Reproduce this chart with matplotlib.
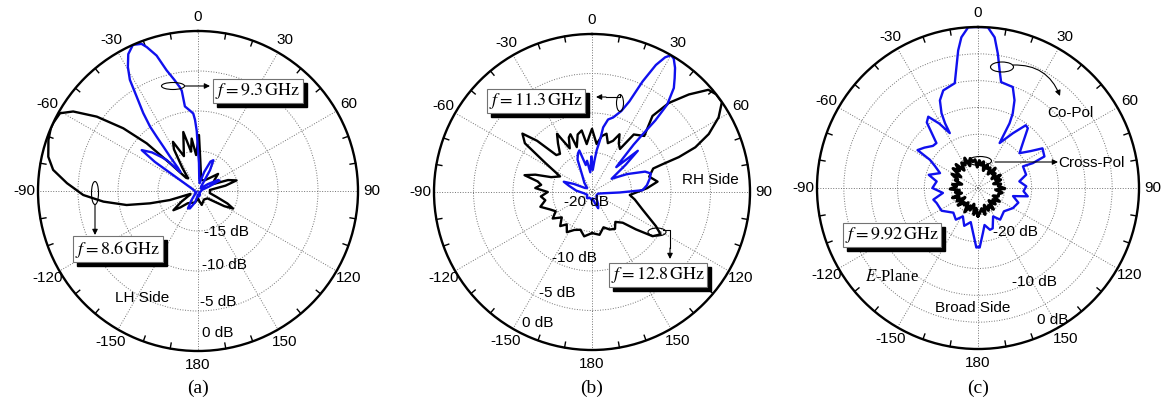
import numpy as np
import matplotlib
matplotlib.use("Agg")
from matplotlib import pyplot as plt
from matplotlib.patches import Ellipse, Rectangle

plt.rcParams['font.family'] = ['Liberation Sans', 'DejaVu Sans']
plt.rcParams['mathtext.fontset'] = 'stix'

# (a) LH side beams, 9.3 GHz (blue) and 8.6 GHz (black)
a93_theta = [-180, -165, -155, -150, -145, -135, -120, -100, -80, -66, -60, -56, -54, -50, -47,
             -45.3, -43, -41, -39.2, -38, -37.3, -36.7, -35.1, -33, -31.5, -29.5, -27, -24, -21,
             -19.6, -17, -14.6, -12, -10, -9.2, -8.8, -5.7, -3.5, -2.4, -1.2, 0, 2, 6, 12, 18, 23, 26.5,
             30, 35, 45, 55, 61, 64, 68, 75, 90, 110, 130, 150, 170, 180]
a93_db = [-19.5, -18.5, -17.6, -17.5, -18.5, -19.5, -19.8, -19.6, -19.5, -19, -18, -13.5, -11.3, -12.5, -13.8,
          -14.5, -16.8, -16.2, -14.5, -13, -11.5, -10, -8.1, -5.9, -3.7, -2.2, -0.8, 0, -0.3,
          -0.9, -2.3, -4.4, -5.8, -6.8, -7.3, -9.3, -9.9, -10.3, -11.1, -12.5, -14.9, -16.5, -18.5, -19, -17.5, -16, -15.7,
          -17, -19.3, -19.5, -18.5, -17.2, -17, -18.5, -19.5, -19.6, -19.7, -19.8, -19.5, -19.3, -19.5]

a86_theta = [-180, -165, -150, -140, -133, -128, -123, -116, -111, -109.5, -107.8, -104.4, -101.1, -96.4,
             -92, -86.6, -81.7, -77.1, -71.2, -67, -64.9, -60.6, -57.5, -53.7, -50, -47.1, -45.3, -42,
             -38, -34, -30, -27, -22, -14, -10, -6.9, -3, 1, 4, 8, 15, 30, 42, 49.6, 56, 65, 70, 74.6,
             79, 85, 100, 108, 113, 116.6, 120, 128, 145, 165, 180]
a86_db = [-19, -18.5, -18.3, -18, -17, -16.1, -17.5, -18.8, -19, -18.5, -16.3, -13.8, -10.9, -8.1,
          -5.65, -3.6, -1.7, -0.8, -0.25, 0, 0, -0.2, -1.5, -4.3, -7.8, -11.25, -15.1, -17.8,
          -18, -16.5, -14, -13.1, -15.3, -12.4, -15, -13.4, -15.5, -13, -16, -17.5, -18.5, -18.5, -17.8, -16.7, -17.5, -18, -16, -15,
          -16.5, -18.5, -18.5, -17.5, -16, -15.1, -16.2, -18.5, -18.7, -18.2, -19]

# (b) RH side beams, 11.3 GHz (blue) and 12.8 GHz (black)
b113_theta = [-180, -160, -140, -120, -100, -85, -75, -70, -66, -60, -50, -40, -30, -24, -20, -17, -13,
              -9, -5, -1, 2, 4.5, 6.4, 8.7, 9.8, 12.5, 15.8, 19.9, 22.4, 24.6, 26.7, 28.5, 30, 31.5,
              33.8, 36, 38.2, 40.7, 41.5, 41.3, 41.3, 42.5, 44.3, 46, 48, 51, 56, 63, 69, 72.5, 77, 83,
              88, 91, 96, 105, 125, 145, 153, 159, 165, 175, 180]
b113_db = [-19, -19.2, -19, -19.3, -19, -18, -17, -16.2, -17.5, -19, -19.2, -18.5, -17.5, -15.5, -14.8, -14.5, -16.5,
           -16, -17.5, -15.5, -17.2, -16, -14.7, -13.4, -11.7, -10.6, -10.2, -9.1, -7.6, -4.6, -2, -0.6, 0, -0.2,
           -1.1, -2.2, -3.25, -5.4, -7.9, -10.25, -12, -14.1, -15.6, -14.5, -12.2, -14.5, -17, -15, -12.8, -12.2, -12.5, -13,
           -13.6, -16.5, -18.5, -19.2, -19.3, -19, -18.3, -17.8, -18.5, -19.2, -19]

b128_theta = [-180, -170, -163, -155, -148, -142, -137, -130, -124, -118, -113, -106, -100, -95, -90, -86,
              -82, -79, -76, -73, -70, -64, -58, -54, -50, -47, -44, -40, -35, -31, -27, -23, -20.5, -18.7,
              -14, -9.5, -6.3, -3, 0, 5.5, 10, 14, 18, 22.3, 25.5, 29, 33, 36, 43, 38.5, 40.8, 44.8, 48.7,
              51.8, 55.3, 59.5, 63.6, 66.6, 68.1, 68.5, 69, 75, 81, 86, 94.5, 100, 109.3, 118.2, 121.7,
              126.1, 130.4, 135, 142, 148, 154.7, 162, 170, 180]
b128_db = [-14.8, -14.3, -15, -14.7, -14, -14.8, -14.1, -15, -14, -14.8, -14.3, -13.2, -14, -13.5, -14.4, -12.8,
           -13.5, -13, -11.2, -12.5, -14.5, -15.5, -13, -9.5, -8.5, -10.5, -13.5, -13.7, -12.5, -11.4, -13.8, -12.5, -12.2, -14,
           -12.5, -12.1, -13.9, -13, -12, -13.9, -12.8, -12.4, -13.5, -13, -11.9, -13, -13.5, -11, -10.3, -7.7, -5.1, -2.6, -0.4,
           0, 0, -1.4, -3.5, -5.75, -8.15, -10.4, -11.7, -12.5, -11.6, -13, -15.2, -14.5, -13.2, -10.8, -9.8,
           -10.5, -12.7, -14.5, -15.2, -14.5, -14.75, -15.3, -14.5, -14.8]

# (c) broadside, 9.92 GHz, E-plane co-pol (blue) and cross-pol (black)
c_co_theta = [-180, -178.4, -173.7, -168, -160, -152, -145, -135, -122, -110, -104.6, -98, -90, -81, -75,
              -68.6, -63, -59.6, -57.9, -53, -47, -42.8, -38, -34.9, -31, -27.2, -27, -26, -23.5, -19.6,
              -12.5, -10.1, -8.2, -6.3, -3.5, 0, 3.5, 6.3, 8.4, 10.4, 12.3, 19, 22.6, 25, 26, 25.8, 25.7,
              32.5, 37.3, 39.8, 45, 50, 55, 58.4, 64.6, 65.6, 64.3, 74.6, 80.9, 88, 94, 99.5, 103, 110,
              120, 132, 145, 152, 160, 164, 170, 173.7, 178.4, 180]
c_co_db = [-19, -18.9, -21.6, -23.5, -22.5, -24, -22.8, -23.5, -22, -21.8, -21.4, -23.4, -21.5, -22.2, -20.5,
           -22.4, -21, -19.6, -16.7, -17.5, -18.5, -18.6, -14.5, -13.8, -16, -18.5, -16.5, -14.5, -12.2, -10.7,
           -10, -7.1, -4.1, -1.75, 0, 0, 0, -1.75, -4.7, -7.7, -9.8, -10.1, -12.3, -14.7, -16.6, -19.4, -20.7,
           -17.9, -15.3, -15.5, -18.2, -19.9, -18, -15.9, -16.3, -18.8, -20.7, -20.7, -22.2, -21, -21.5, -20.6, -23.3, -22,
           -22.5, -23.5, -22.8, -24, -22, -21.9, -23, -21.6, -18.9, -19]

c_x_theta = [-180, -175, -171, -166, -160, -157, -151, -146, -141, -137, -131, -126, -122, -116, -111,
             -107, -101, -97, -92, -86, -82, -77, -71, -67, -62, -57, -52, -47, -43, -38, -33, -29, -24,
             -20, -15, -11, -6, -2, 3, 8, 12, 17, 22, 26, 31, 36, 41, 45, 50, 56, 60, 65, 70, 75, 80, 85,
             91, 96, 101, 106, 112, 117, 122, 128, 133, 139, 144, 149, 155, 160, 165, 170, 176, 180]
c_x_db = [-24.8, -26.2, -25.0, -26.9, -25.6, -26.4, -24.9, -26.7, -25.9, -26.3, -25.1, -27.0, -25.4, -26.1, -24.9,
          -26.8, -25.7, -26.5, -24.8, -26.0, -25.2, -26.9, -25.5, -25.9, -24.5, -26.2, -24.1, -25.3, -24.0, -25.8,
          -24.4, -25.1, -23.9, -25.6, -24.3, -25.0, -24.7, -26.1, -24.9, -25.7, -25.0, -26.6, -25.3, -26.0, -25.6,
          -26.8, -25.1, -26.3, -25.8, -26.9, -25.2, -26.4, -25.5, -27.0, -25.7, -26.2, -25.0, -26.7, -25.4, -26.0,
          -25.9, -26.8, -25.3, -26.5, -25.6, -26.9, -25.1, -26.2, -25.4, -26.6, -24.9, -26.1, -25.3, -24.8]

tick_angles = [0, 30, 60, 90, 120, 150, 180, 210, 240, 270, 300, 330]
tick_labels = ['0', '30', '60', '90', '120', '150', '180', '-150', '-120', '-90', '-60', '-30']
rim_angles = [a for a in range(0, 360, 10) if a % 30]

W, H = 1169, 405
fig = plt.figure(figsize=(W / 100, H / 100), dpi=100)

BLUE = '#1010ee'


def make_polar(cx, cy, R, rmin, rings):
    ax = fig.add_axes([(cx - R) / W, (H - cy - R) / H, 2 * R / W, 2 * R / H], projection='polar')
    ax.set_theta_zero_location('N')
    ax.set_theta_direction(-1)
    ax.set_yticks(rings)
    ax.set_yticklabels([])
    ax.set_xticks(np.deg2rad(tick_angles))
    ax.set_xticklabels(tick_labels, fontsize=11)
    ax.tick_params(axis='x', which='major', pad=3, length=0)
    ax.grid(True, color='0.45', linestyle=':', linewidth=0.7)
    ax.spines['polar'].set_linewidth(1.7)
    # small inward ticks every 10 degrees on the rim
    tl = -rmin * 0.035
    for a in rim_angles:
        ax.plot([np.deg2rad(a)] * 2, [-tl, 0], color='k', lw=1.0, clip_on=False)
    ax.set_ylim(rmin, 0)
    return ax


axa = make_polar(198, 191, 160, -20, [-15, -10, -5])
axa.plot(np.deg2rad(a86_theta), a86_db, color='k', lw=1.7)
axa.plot(np.deg2rad(a93_theta), a93_db, color=BLUE, lw=1.7)

axb = make_polar(592, 192, 158, -20, [-15, -10, -5])
axb.plot(np.deg2rad(b128_theta), b128_db, color='k', lw=1.7)
axb.plot(np.deg2rad(b113_theta), b113_db, color=BLUE, lw=1.7)

axc = make_polar(978, 188, 161, -30, [-25, -20, -15, -10, -5])
axc.plot(np.deg2rad(c_x_theta), c_x_db, color='k', lw=2.2)
axc.plot(np.deg2rad(c_co_theta), c_co_db, color=BLUE, lw=1.7)

# overlay in pixel coordinates for annotations
ov = fig.add_axes([0, 0, 1, 1])
ov.set_xlim(0, W)
ov.set_ylim(H, 0)
ov.axis('off')

boxes = []


def shadow_box(x, y, s):
    t = ov.text(x, y, s, fontsize=13, ha='center', va='center', color='k', zorder=4,
                bbox=dict(boxstyle='square,pad=0.12', fc='white', ec='0.45', lw=0.8))
    boxes.append(t)


def arrow(x0, y0, x1, y1, rad=0.0):
    ov.annotate('', xy=(x1, y1), xytext=(x0, y0),
                arrowprops=dict(arrowstyle='-|>', color='k', lw=0.8, mutation_scale=8,
                                shrinkA=0, shrinkB=0, connectionstyle='arc3,rad=%g' % rad))


def ring(x, y, w, h):
    ov.add_patch(Ellipse((x, y), w, h, fill=False, ec='k', lw=0.8))


fs = 11
# (a)
ring(173, 86, 23, 7)
arrow(185, 86, 210, 86)
shadow_box(258, 91, r'$f=9.3\,\mathrm{GHz}$')
ring(95, 193, 7, 23)
arrow(95, 205, 95, 235)
shadow_box(118, 249, r'$f=8.6\,\mathrm{GHz}$')
ov.text(142, 298, 'LH Side', fontsize=fs, ha='center', va='center')
for (x, y, s) in [(204, 232, '-15 dB'), (202, 265, '-10 dB'), (200, 302, '-5 dB'), (202, 333, '0 dB')]:
    ov.text(x, y, s, fontsize=fs, ha='left', va='center')
ov.text(198, 388, '(a)', fontsize=14, ha='center', va='center', family='Liberation Serif')

# (b)
ring(620, 103, 7, 17)
ov.plot([620, 620, 606], [95, 97, 97], color='k', lw=0.8)
arrow(606, 97, 596, 97)
shadow_box(536, 101, r'$f=11.3\,\mathrm{GHz}$')
ring(657, 232, 18, 8)
ov.plot([663, 670, 670], [230, 230, 248], color='k', lw=0.8)
arrow(670, 248, 670, 259)
shadow_box(658, 275, r'$f=12.8\,\mathrm{GHz}$')
ov.text(710, 180, 'RH Side', fontsize=fs, ha='center', va='center')
for (x, y, s) in [(586, 202, '-20 dB'), (574, 258, '-10 dB'), (557, 293, '-5 dB'), (538, 323, '0 dB')]:
    ov.text(x, y, s, fontsize=fs, ha='center', va='center')
ov.text(592, 388, '(b)', fontsize=14, ha='center', va='center', family='Liberation Serif')

# (c)
ring(1002, 67, 23, 10)
arrow(1013, 65, 1060, 96, rad=-0.35)
ov.text(1070, 113, 'Co-Pol', fontsize=fs, ha='center', va='center')
ring(980, 161, 23, 9)
arrow(995, 162, 1058, 162)
ov.text(1058, 163, 'Cross-Pol', fontsize=fs, ha='left', va='center')
shadow_box(892, 235, r'$f=9.92\,\mathrm{GHz}$')
ov.text(892, 277, r'$E$-Plane', fontsize=12, ha='center', va='center', family='Liberation Serif')
ov.text(973, 308, 'Broad Side', fontsize=fs, ha='center', va='center')
for (x, y, s) in [(1015, 232, '-20 dB'), (1034, 282, '-10 dB'), (1053, 320, '0 dB')]:
    ov.text(x, y, s, fontsize=fs, ha='center', va='center')
ov.text(978, 388, '(c)', fontsize=14, ha='center', va='center', family='Liberation Serif')

# drop shadows behind the frequency boxes
fig.canvas.draw()
inv = ov.transData.inverted()
for t in boxes:
    bb = t.get_bbox_patch().get_window_extent()
    (x0, y0), (x1, y1) = inv.transform([(bb.x0, bb.y0), (bb.x1, bb.y1)])
    left, top = min(x0, x1), min(y0, y1)
    ov.add_patch(Rectangle((left + 4, top + 4), abs(x1 - x0), abs(y1 - y0),
                           fc='k', ec='k', zorder=3))

fig.savefig('out.png', dpi=100)
